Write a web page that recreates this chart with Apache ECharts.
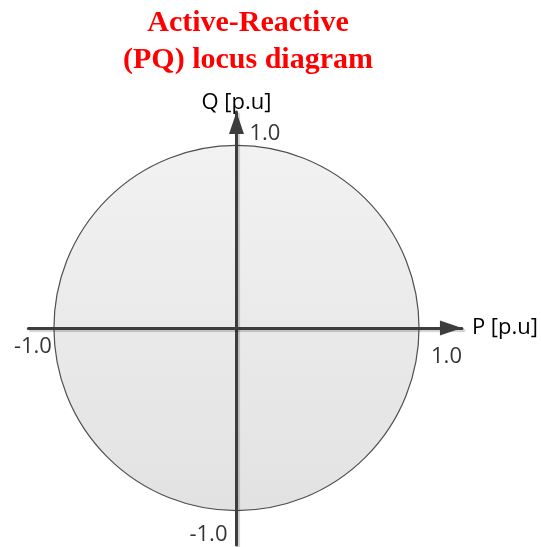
<!DOCTYPE html>
<html>
<head>
<meta charset="utf-8">
<script src="https://cdn.jsdelivr.net/npm/echarts@6/dist/echarts.min.js"></script>
<style>
  html, body { margin: 0; padding: 0; background: #fff; }
  #chart { width: 541px; height: 547px; }
</style>
</head>
<body>
<div id="chart"></div>
<script>
// PQ capability locus: unit circle in per-unit active / reactive power
const titleLines = ['Active-Reactive', '(PQ) locus diagram'];
const axisNames = ['P [p.u]', 'Q [p.u]'];
const locusRadius = [1];
const pTicks = [-1, 1];
const qTicks = [1, -1];
const pTickLabels = ['-1.0', '1.0'];
const qTickLabels = ['1.0', '-1.0'];

const labelFont = { fontFamily: 'Open Sans', fontSize: 22, color: '#000' };
const axisColor = '#3d3d3d';

const axisLineStyle = {
  color: axisColor,
  width: 3,
  shadowColor: 'rgba(0,0,0,0.18)',
  shadowOffsetX: 2,
  shadowOffsetY: 2,
  shadowBlur: 1
};

// arrow heads: tip sits on the axis end
const arrowSize = [15, 22];
const arrowOffset = [0, -arrowSize[1] / 2];

// per-label placement around the tick points
const pLabelPos = [
  { align: 'right', offset: [-2, 19] },
  { align: 'left', offset: [12, 29] }
];
const qLabelPos = [
  { align: 'left', offset: [13, -11] },
  { align: 'right', offset: [-9, 24] }
];

const tickData = [];
pTicks.forEach((v, i) => tickData.push({
  value: [v, 0],
  label: Object.assign({ show: true, formatter: pTickLabels[i], position: 'inside', verticalAlign: 'middle' }, labelFont, pLabelPos[i])
}));
qTicks.forEach((v, i) => tickData.push({
  value: [0, v],
  label: Object.assign({ show: true, formatter: qTickLabels[i], position: 'inside', verticalAlign: 'middle' }, labelFont, qLabelPos[i])
}));

const chart = echarts.init(document.getElementById('chart'), null, { renderer: 'canvas' });

const unit = 183;
const xMin = -1.14, xMax = 1.235, yMin = -1.186, yMax = 1.181;
const originX = 237, originY = 328;

chart.setOption({
  animation: false,
  title: {
    text: titleLines.join('\n'),
    left: 248,
    textAlign: 'center',
    top: 5,
    padding: 0,
    textStyle: {
      fontFamily: 'Liberation Serif',
      fontWeight: 'bold',
      fontSize: 30,
      lineHeight: 37,
      color: '#ff0000'
    }
  },
  grid: {
    left: originX + xMin * unit,
    width: (xMax - xMin) * unit,
    top: originY - yMax * unit,
    height: (yMax - yMin) * unit
  },
  xAxis: {
    type: 'value',
    min: xMin,
    max: xMax,
    z: 5,
    name: axisNames[0],
    nameLocation: 'end',
    nameGap: 10,
    nameTextStyle: Object.assign({ verticalAlign: 'middle' }, labelFont),
    axisLine: {
      show: true,
      onZero: true,
      symbol: ['none', 'triangle'],
      symbolSize: arrowSize,
      symbolOffset: arrowOffset,
      lineStyle: axisLineStyle
    },
    axisTick: { show: false },
    axisLabel: { show: false },
    splitLine: { show: false }
  },
  yAxis: {
    type: 'value',
    min: yMin,
    max: yMax,
    z: 5,
    name: axisNames[1],
    nameLocation: 'end',
    nameGap: -2,
    nameTextStyle: Object.assign({ align: 'center', verticalAlign: 'bottom' }, labelFont),
    axisLine: {
      show: true,
      onZero: true,
      symbol: ['none', 'triangle'],
      symbolSize: arrowSize,
      symbolOffset: arrowOffset,
      lineStyle: axisLineStyle
    },
    axisTick: { show: false },
    axisLabel: { show: false },
    splitLine: { show: false }
  },
  series: [
    {
      type: 'custom',
      z: 1,
      silent: true,
      data: locusRadius.map(r => [r]),
      renderItem(params, api) {
        const c = api.coord([0, 0]);
        const r = api.size([api.value(0), api.value(0)]);
        return {
          type: 'circle',
          shape: { cx: c[0], cy: c[1], r: r[0] },
          style: {
            fill: new echarts.graphic.LinearGradient(0, 0, 0, 1, [
              { offset: 0, color: '#f2f2f2' },
              { offset: 1, color: '#e2e2e2' }
            ]),
            stroke: '#505050',
            lineWidth: 1.2
          }
        };
      }
    },
    {
      type: 'scatter',
      z: 6,
      silent: true,
      symbolSize: 0,
      data: tickData
    }
  ]
});
</script>
</body>
</html>
